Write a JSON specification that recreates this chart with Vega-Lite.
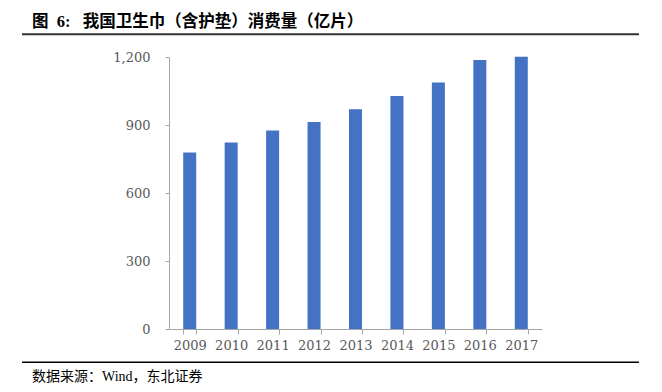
{
  "$schema": "https://vega.github.io/schema/vega-lite/v6.json",
  "width": 373,
  "height": 272,
  "autosize": {"type": "none"},
  "padding": {"left": 169, "top": 57, "right": 120, "bottom": 63},
  "background": "white",
  "config": {"view": {"stroke": null}},
  "title": {
    "text": "图\u00a0\u00a06:\u00a0\u00a0\u00a0我国卫生巾（含护垫）消费量（亿片）",
    "anchor": "start",
    "frame": "bounds",
    "font": "Liberation Serif, Noto Sans CJK SC",
    "fontSize": 16.5,
    "fontWeight": "bold",
    "color": "#000000",
    "offset": 3,
    "dx": 11
  },
  "layer": [
    {
      "data": {
        "values": [
          {"year": "2009", "value": 779},
          {"year": "2010", "value": 823},
          {"year": "2011", "value": 876},
          {"year": "2012", "value": 913},
          {"year": "2013", "value": 969},
          {"year": "2014", "value": 1028},
          {"year": "2015", "value": 1087},
          {"year": "2016", "value": 1187},
          {"year": "2017", "value": 1201}
        ]
      },
      "mark": {"type": "bar", "color": "#4472C4"},
      "encoding": {
        "x": {
          "field": "year",
          "type": "ordinal",
          "scale": {"paddingInner": 0.686, "paddingOuter": 0.343},
          "axis": {
            "title": null,
            "labelAngle": 0,
            "labelFont": "DejaVu Serif",
            "labelFontSize": 13,
            "labelColor": "#595959",
            "domainColor": "#A6A6A6",
            "tickColor": "#A6A6A6",
            "tickSize": 5,
            "labelPadding": 5,
            "tickBand": "extent",
            "grid": false
          }
        },
        "y": {
          "field": "value",
          "type": "quantitative",
          "scale": {"domain": [0, 1200], "nice": false},
          "axis": {
            "title": null,
            "values": [0, 300, 600, 900, 1200],
            "format": ",d",
            "labelFont": "DejaVu Serif",
            "labelFontSize": 13,
            "labelColor": "#595959",
            "domainColor": "#A6A6A6",
            "tickColor": "#A6A6A6",
            "tickSize": 4,
            "labelPadding": 15,
            "grid": false
          }
        }
      }
    },
    {
      "data": {"values": [{}]},
      "layer": [
        {
          "mark": {"type": "rule", "color": "#333333", "strokeWidth": 2},
          "encoding": {
            "x": {"datum": 0, "type": "quantitative", "scale": {"domain": [0.23825, 0.84279], "nice": false, "zero": false}, "axis": null},
            "x2": {"datum": 1},
            "y": {"datum": 1300, "type": "quantitative", "scale": {"domain": [0, 1200], "nice": false}, "axis": null}
          }
        },
        {
          "mark": {"type": "rule", "color": "#000000", "strokeWidth": 1.5},
          "encoding": {
            "x": {"datum": 0, "type": "quantitative", "scale": {"domain": [0.23825, 0.84279], "nice": false, "zero": false}, "axis": null},
            "x2": {"datum": 1},
            "y": {"datum": -147, "type": "quantitative", "scale": {"domain": [0, 1200], "nice": false}, "axis": null}
          }
        },
        {
          "mark": {"type": "text", "align": "left", "baseline": "middle", "font": "Liberation Serif, Noto Sans CJK SC", "fontSize": 14, "color": "#000000"},
          "encoding": {
            "x": {"datum": 0.01621, "type": "quantitative", "scale": {"domain": [0.23825, 0.84279], "nice": false, "zero": false}, "axis": null},
            "y": {"datum": -212, "type": "quantitative", "scale": {"domain": [0, 1200], "nice": false}, "axis": null},
            "text": {"value": "数据来源：Wind，东北证券"}
          }
        }
      ]
    }
  ],
  "resolve": {"scale": {"x": "independent", "y": "independent"}}
}
